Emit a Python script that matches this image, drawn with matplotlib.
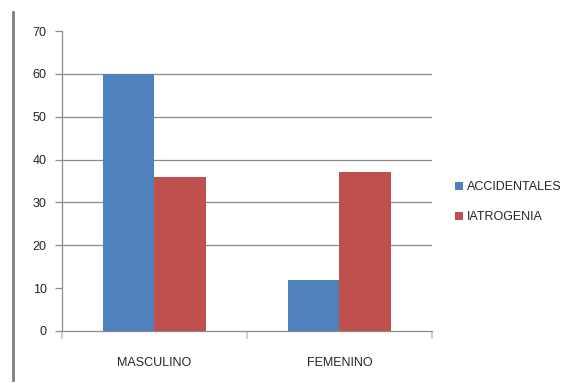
import numpy as np
import matplotlib
matplotlib.use('Agg')
import matplotlib.pyplot as plt
from matplotlib.lines import Line2D

categorias = ['MASCULINO', 'FEMENINO']
accidentales = [60, 12]
iatrogenia = [36, 37]
series = ['ACCIDENTALES', 'IATROGENIA']
yticks = [0, 10, 20, 30, 40, 50, 60, 70]
lineas_grid = [20, 30, 40, 50, 60]

azul = '#4F81BD'
rojo = '#C0504D'
gris = '#8C8C8C'

plt.rcParams['font.family'] = ['Liberation Sans', 'DejaVu Sans']
plt.rcParams['text.color'] = '#262626'

fig = plt.figure(figsize=(5.69, 3.83), dpi=100)
ax = fig.add_axes([0.109, 0.136, 0.650, 0.783])

x = np.arange(len(categorias))
w = 0.28
ax.bar(x - w / 2, accidentales, w, color=azul, label=series[0], zorder=3)
ax.bar(x + w / 2, iatrogenia, w, color=rojo, label=series[1], zorder=3)

for g in lineas_grid:
    ax.axhline(g, color=gris, lw=0.9, zorder=1)

ax.set_xlim(-0.5, len(categorias) - 0.5)
ax.set_ylim(0, 70)
ax.set_yticks(yticks)
ax.set_xticks(x)
ax.set_xticklabels(categorias)
ax.set_xticks([-0.5, 0.5, 1.5], minor=True)

ax.tick_params(axis='y', length=5, width=0.9, color=gris, labelsize=9, pad=6,
               labelcolor='#262626')
ax.tick_params(axis='x', which='major', length=0, labelsize=9, pad=19,
               labelcolor='#262626')
ax.tick_params(axis='x', which='minor', length=6, width=1.2, color='#C8C8C8')

for s in ['top', 'right']:
    ax.spines[s].set_visible(False)
for s in ['left', 'bottom']:
    ax.spines[s].set_color(gris)
    ax.spines[s].set_linewidth(0.9)

ax.legend(loc='upper left', bbox_to_anchor=(444 / 569, 1 - 170 / 383),
          bbox_transform=fig.transFigure, frameon=False,
          fontsize=9, handlelength=0.65, handleheight=0.65, handletextpad=0.3,
          labelspacing=1.45)

# marco gris a la izquierda
fig.add_artist(Line2D([13 / 569, 13 / 569], [1 - 12 / 383, 1 - 380 / 383],
                      color='#7F7F7F', lw=2, transform=fig.transFigure))

fig.savefig('out.png', dpi=100)
